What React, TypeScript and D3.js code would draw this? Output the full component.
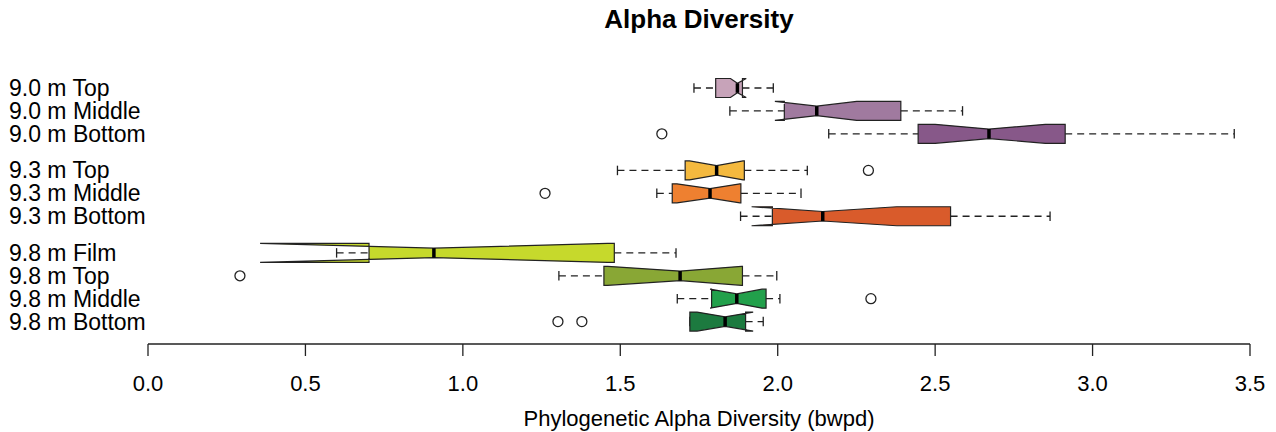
import React from 'react';
import * as d3 from 'd3';

// sample labels, top to bottom
const labels = [
  '9.0 m Top', '9.0 m Middle', '9.0 m Bottom',
  '9.3 m Top', '9.3 m Middle', '9.3 m Bottom',
  '9.8 m Film', '9.8 m Top', '9.8 m Middle', '9.8 m Bottom',
];
const groupOf = [0, 0, 0, 1, 1, 1, 2, 2, 2, 2];

// box statistics (bwpd)
const whiskerLo = [1.734, 1.848, 2.162, 1.491, 1.616, 1.882, 0.599, 1.305, 1.681, 1.721];
const q1 = [1.803, 2.021, 2.446, 1.706, 1.665, 1.983, 0.702, 1.448, 1.79, 1.721];
const median = [1.872, 2.124, 2.671, 1.806, 1.785, 2.143, 0.908, 1.69, 1.87, 1.833];
const q3 = [1.888, 2.391, 2.913, 1.894, 1.883, 2.549, 1.481, 1.888, 1.963, 1.898];
const whiskerHi = [1.986, 2.587, 3.45, 2.094, 2.074, 2.865, 1.677, 1.997, 2.007, 1.954];
const notchLo = [1.85, 1.991, 2.5, 1.72, 1.68, 1.917, 0.356, 1.46, 1.785, 1.744];
const notchHi = [1.9, 2.251, 2.85, 1.89, 1.88, 2.378, 1.46, 1.885, 1.95, 1.922];
const outliers: number[][] = [[], [], [1.632], [2.288], [1.261], [], [], [0.292], [2.296], [1.302, 1.378]];

const xTicks = [0, 0.5, 1, 1.5, 2, 2.5, 3, 3.5];

const colors = [
  '#c7a3b9', '#a07a9f', '#875889',
  '#f4b93e', '#ee8030', '#d95b2b',
  '#c6d92c', '#89a735', '#22a04b', '#1c7a3f',
];

const FONT = '"Liberation Sans", Arial, sans-serif';

export default function App() {
  const width = 1276;
  const height = 432;
  const gap = 0.6;
  const halfH = 9.5;

  const x = d3.scaleLinear().domain([0, 3.5]).range([148, 1250]);
  const y = d3.scaleLinear().domain([0, 1]).range([88, 110.9]);
  const slot = (i: number) => i + groupOf[i] * gap;

  return (
    <svg width={width} height={height} style={{ position: 'absolute', left: 0, top: 0, background: '#fff' }} fontFamily={FONT}>
      <text x={699} y={28} textAnchor="middle" fontSize={26} fontWeight="bold">Alpha Diversity</text>

      {labels.map((lab, i) => (
        <text key={lab} x={9} y={y(slot(i)) + 8} fontSize={23}>{lab}</text>
      ))}

      {labels.map((lab, i) => {
        const c = y(slot(i));
        const pts: [number, number][] = [
          [x(q1[i]), c - halfH], [x(notchLo[i]), c - halfH], [x(median[i]), c - halfH / 2],
          [x(notchHi[i]), c - halfH], [x(q3[i]), c - halfH], [x(q3[i]), c + halfH],
          [x(notchHi[i]), c + halfH], [x(median[i]), c + halfH / 2], [x(notchLo[i]), c + halfH],
          [x(q1[i]), c + halfH],
        ];
        return (
          <g key={'b' + lab}>
            <line x1={x(whiskerLo[i])} x2={x(q1[i])} y1={c} y2={c} stroke="#222" strokeWidth={1.3} strokeDasharray="7,5" />
            <line x1={x(q3[i])} x2={x(whiskerHi[i])} y1={c} y2={c} stroke="#222" strokeWidth={1.3} strokeDasharray="7,5" />
            <line x1={x(whiskerLo[i])} x2={x(whiskerLo[i])} y1={c - 4.75} y2={c + 4.75} stroke="#222" strokeWidth={1.3} />
            <line x1={x(whiskerHi[i])} x2={x(whiskerHi[i])} y1={c - 4.75} y2={c + 4.75} stroke="#222" strokeWidth={1.3} />
            <polygon points={pts.map(p => p.join(',')).join(' ')} fill={colors[i]} stroke="#222" strokeWidth={1.2} strokeLinejoin="miter" />
            <line x1={x(median[i])} x2={x(median[i])} y1={c - halfH / 2} y2={c + halfH / 2} stroke="#000" strokeWidth={3.5} />
            {outliers[i].map((v, k) => (
              <circle key={k} cx={x(v)} cy={c} r={5} fill="none" stroke="#222" strokeWidth={1.3} />
            ))}
          </g>
        );
      })}

      <g>
        <line x1={x(0)} x2={x(3.5)} y1={344} y2={344} stroke="#222" strokeWidth={1.3} />
        {xTicks.map(t => (
          <g key={t}>
            <line x1={x(t)} x2={x(t)} y1={344} y2={356} stroke="#222" strokeWidth={1.3} />
            <text x={x(t)} y={391} textAnchor="middle" fontSize={22}>{d3.format('.1f')(t)}</text>
          </g>
        ))}
        <text x={699} y={426} textAnchor="middle" fontSize={22}>Phylogenetic Alpha Diversity (bwpd)</text>
      </g>
    </svg>
  );
}
